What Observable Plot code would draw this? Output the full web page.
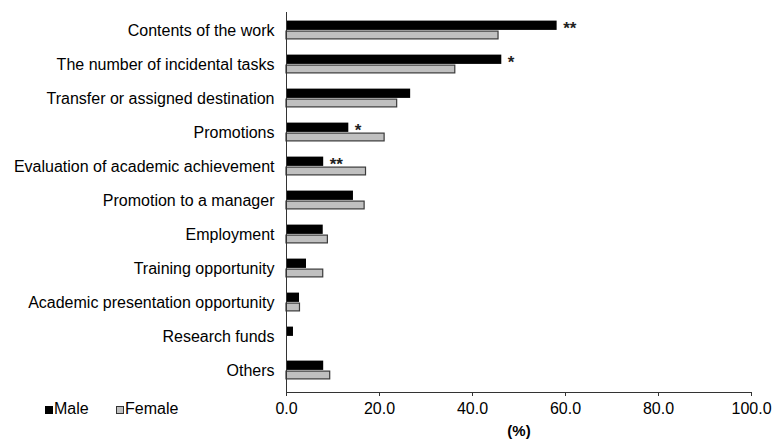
<!DOCTYPE html>
<html>
<head>
<meta charset="utf-8">
<script src="https://cdn.jsdelivr.net/npm/d3@7"></script>
<script src="https://cdn.jsdelivr.net/npm/@observablehq/plot@0.6"></script>
<style>
  body { margin: 0; background: #fff; font-family: "Liberation Sans", Arial, sans-serif; }
  #chart { position: relative; width: 773px; height: 441px; overflow: hidden; }
  #chart svg { position: absolute; left: 0; top: 0; }
  .lg-sw { position: absolute; width: 8px; height: 8px; box-sizing: border-box; }
  .lg-tx { position: absolute; font-size: 16px; line-height: 16px; color: #000; white-space: nowrap; }
</style>
</head>
<body>
<div id="chart"></div>
<script>
const categories = [
  "Contents of the work",
  "The number of incidental tasks",
  "Transfer or assigned destination",
  "Promotions",
  "Evaluation of academic achievement",
  "Promotion to a manager",
  "Employment",
  "Training opportunity",
  "Academic presentation opportunity",
  "Research funds",
  "Others"
];
const maleValues   = [58.2, 46.3, 26.7, 13.4, 8.0, 14.4, 7.9, 4.3, 2.8, 1.5, 8.0];
const femaleValues = [45.6, 36.3, 23.8, 21.1, 17.1, 16.8, 8.9, 7.9, 2.9, 0.0, 9.4];
const significance = ["**", "*", "", "*", "**", "", "", "", "", "", ""];
const seriesNames = ["Male", "Female"];
const xTicks = [0, 20, 40, 60, 80, 100];
const axisTitle = "(%)";

const data = categories.map((c, i) => ({
  category: c, male: maleValues[i], female: femaleValues[i], sig: significance[i]
}));

const plot = Plot.plot({
  width: 773,
  height: 441,
  marginLeft: 286,
  marginRight: 22,
  marginTop: 12,
  marginBottom: 49,
  style: { fontFamily: "Liberation Sans, Arial, sans-serif", fontSize: "16px", color: "#000", background: "#fff" },
  x: { domain: [0, 100] },
  y: { type: "band", domain: categories, range: [12.4, 388.4], padding: 0 },
  marks: [
    Plot.barX(data, { x: "male", y: "category", fill: "#000", insetTop: 7.6, insetBottom: 17.1 }),
    Plot.barX(data, { x: "female", y: "category", fill: "#c0c0c0", stroke: "#3a3a3a", strokeWidth: 1.2, insetTop: 18.1, insetBottom: 8.1 }),
    Plot.text(data.filter(d => d.sig), { x: "male", y: "category", text: "sig", textAnchor: "start", dx: 6, dy: -1.5, fontWeight: "bold", fontSize: 17, fill: "#222", ariaLabel: "significance" }),
    Plot.ruleX([0], { stroke: "#333", strokeWidth: 1 }),
    Plot.frame({ anchor: "bottom", stroke: "#333" }),
    Plot.axisX({ ticks: xTicks, tickFormat: d => d.toFixed(1), tickSize: 4, tickPadding: 6, label: null, fontSize: 16, stroke: "#333", fill: "#000" }),
    Plot.axisY({ tickSize: 0, tickPadding: 12, label: null, fontSize: 16, fill: "#000" }),
    Plot.text([axisTitle], { text: d => d, frameAnchor: "bottom", dy: 43, fontWeight: "bold", fontSize: 15, fill: "#000" })
  ]
});

d3.select(plot).selectAll("g[aria-label='significance'] text").style("letter-spacing", "2px");

const chart = document.getElementById("chart");
chart.appendChild(plot);

// Legend (HTML, below-left of plot)
const legendItems = [
  { left: 45, fill: "#000", border: "none" },
  { left: 116, fill: "#c0c0c0", border: "1px solid #333" }
];
seriesNames.forEach((name, i) => {
  const it = legendItems[i];
  const sw = document.createElement("div");
  sw.className = "lg-sw";
  sw.style.left = it.left + "px";
  sw.style.top = "406px";
  sw.style.background = it.fill;
  sw.style.border = it.border;
  chart.appendChild(sw);
  const tx = document.createElement("div");
  tx.className = "lg-tx";
  tx.style.left = (it.left + 9) + "px";
  tx.style.top = "400.5px";
  tx.textContent = name;
  chart.appendChild(tx);
});
</script>
</body>
</html>
